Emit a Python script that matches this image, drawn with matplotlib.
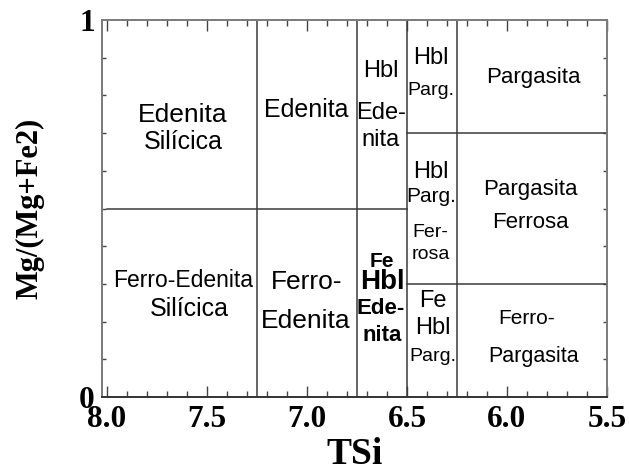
import numpy as np
import matplotlib.pyplot as plt
from matplotlib.ticker import MultipleLocator, FixedLocator

# Boundaries of the amphibole classification fields
si_divisions = [7.25, 6.75, 6.5, 6.25]
mg_split_left = 0.5          # from TSi 8.0 down to 6.5
mg_splits_right = [0.7, 0.3]  # from TSi 6.5 down to 5.5

# Field names: (text, TSi, Mg/(Mg+Fe2), size, weight)
field_labels = [
    ("Edenita", 7.62, 0.747, 19, "normal"),
    ("Silícica", 7.62, 0.676, 18, "normal"),
    ("Edenita", 7.004, 0.76, 18, "normal"),
    ("Hbl", 6.63, 0.865, 17, "normal"),
    ("Ede-", 6.63, 0.753, 17, "normal"),
    ("nita", 6.63, 0.682, 17, "normal"),
    ("Hbl", 6.381, 0.90, 17, "normal"),
    ("Parg.", 6.381, 0.813, 14, "normal"),
    ("Pargasita", 5.869, 0.847, 16, "normal"),
    ("Hbl", 6.381, 0.597, 17, "normal"),
    ("Parg.", 6.381, 0.532, 15, "normal"),
    ("Fer-", 6.381, 0.437, 14, "normal"),
    ("rosa", 6.381, 0.379, 14, "normal"),
    ("Pargasita", 5.883, 0.55, 16, "normal"),
    ("Ferrosa", 5.883, 0.463, 16, "normal"),
    ("Ferro-Edenita", 7.62, 0.308, 16.5, "normal"),
    ("Silícica", 7.59, 0.234, 18, "normal"),
    ("Ferro-", 7.004, 0.305, 19, "normal"),
    ("Edenita", 7.004, 0.203, 19, "normal"),
    ("Fe", 6.625, 0.36, 15, "bold"),
    ("Hbl", 6.625, 0.305, 20, "bold"),
    ("Ede-", 6.63, 0.234, 16, "bold"),
    ("nita", 6.625, 0.163, 16, "bold"),
    ("Fe", 6.371, 0.255, 17, "normal"),
    ("Hbl", 6.371, 0.182, 17, "normal"),
    ("Parg.", 6.371, 0.108, 14, "normal"),
    ("Ferro-", 5.903, 0.208, 15, "normal"),
    ("Pargasita", 5.869, 0.108, 15.5, "normal"),
]

x_major = [8.0, 7.5, 7.0, 6.5, 6.0, 5.5]
x_tick_labels = ["8.0", "7.5", "7.0", "6.5", "6.0", "5.5"]
y_major = [0, 1]
y_tick_labels = ["0", "1"]

serif = "Liberation Serif"
sans = "Liberation Sans"
line_col = "#3a3a3a"
frame_col = "#7a7a7a"

fig = plt.figure(figsize=(6.29, 4.75), dpi=100)
ax = fig.add_axes([0.162, 0.164, 0.803, 0.794])

ax.set_xlim(8.025, 5.5)
ax.set_ylim(0, 1)

for x in si_divisions:
    ax.axvline(x, color=line_col, lw=1.1)
ax.plot([8.0, 6.5], [mg_split_left] * 2, color=line_col, lw=1.1)
for y in mg_splits_right:
    ax.plot([6.5, 5.5], [y, y], color=line_col, lw=1.1)

for text, x, y, size, weight in field_labels:
    ax.text(x, y, text, ha="center", va="center", fontsize=size,
            fontweight=weight, family=sans, color="black")

# frame and ticks
for side in ["left", "top", "right"]:
    ax.spines[side].set_color(frame_col)
    ax.spines[side].set_linewidth(1.4)
ax.spines["bottom"].set_color("#333333")
ax.spines["bottom"].set_linewidth(1.4)

ax.xaxis.set_major_locator(FixedLocator(x_major))
ax.set_xticklabels(x_tick_labels)
ax.xaxis.set_minor_locator(MultipleLocator(0.1))
ax.yaxis.set_major_locator(FixedLocator(y_major))
ax.set_yticklabels(y_tick_labels)
ax.yaxis.set_minor_locator(MultipleLocator(0.1))

ax.tick_params(axis="x", which="major", direction="in", top=True,
               length=8, width=1.0, color="#444444", pad=6)
ax.tick_params(axis="x", which="minor", direction="in", top=True,
               length=4.5, width=1.0, color="#444444")
ax.tick_params(axis="y", which="major", length=0, pad=5)
ax.tick_params(axis="y", which="minor", direction="in", right=True,
               length=3, width=1.0, color="#444444")

for lab in ax.get_xticklabels() + ax.get_yticklabels():
    lab.set_family(serif)
    lab.set_fontweight("bold")
    lab.set_fontsize(22.5)

ax.set_xlabel("TSi", family=serif, fontweight="bold", fontsize=27,
              labelpad=2)
ax.set_ylabel("Mg/(Mg+Fe2)", family=serif, fontweight="bold", fontsize=22,
              labelpad=25)

fig.savefig("out.png", dpi=100)
